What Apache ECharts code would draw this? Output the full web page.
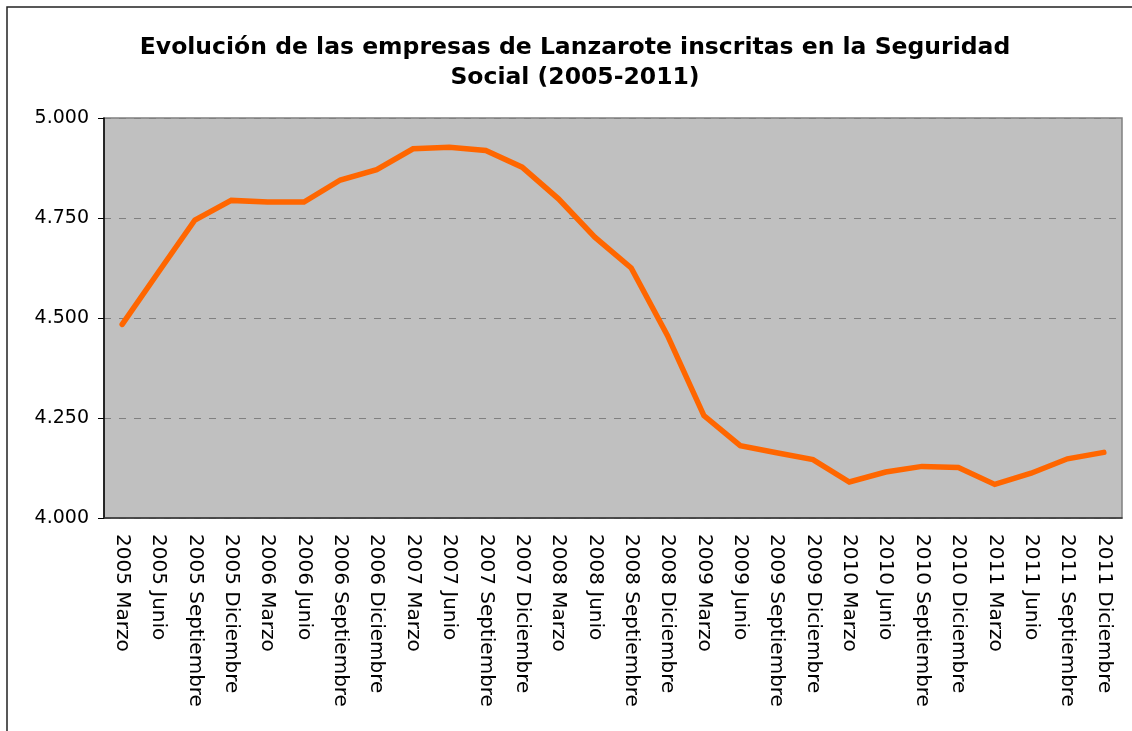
<!DOCTYPE html>
<html>
<head>
<meta charset="utf-8">
<title>Empresas Lanzarote</title>
<script src="https://cdn.jsdelivr.net/npm/echarts@6/dist/echarts.min.js"></script>
<style>
html, body { margin: 0; padding: 0; background: #fff; }
#chart { width: 1132px; height: 731px; }
</style>
</head>
<body>
<div id="chart"></div>
<script>
// trimestres 2005-2011
var categories = [
  '2005 Marzo', '2005 Junio', '2005 Septiembre', '2005 Diciembre',
  '2006 Marzo', '2006 Junio', '2006 Septiembre', '2006 Diciembre',
  '2007 Marzo', '2007 Junio', '2007 Septiembre', '2007 Diciembre',
  '2008 Marzo', '2008 Junio', '2008 Septiembre', '2008 Diciembre',
  '2009 Marzo', '2009 Junio', '2009 Septiembre', '2009 Diciembre',
  '2010 Marzo', '2010 Junio', '2010 Septiembre', '2010 Diciembre',
  '2011 Marzo', '2011 Junio', '2011 Septiembre', '2011 Diciembre'
];
// empresas inscritas
var empresas = [
  4484, 4615, 4745, 4794,
  4790, 4790, 4845, 4871,
  4923, 4927, 4919, 4877,
  4798, 4702, 4625, 4456,
  4256, 4181, 4163, 4146,
  4090, 4115, 4129, 4126,
  4084, 4112, 4148, 4164
];
var yTicks = [4000, 4250, 4500, 4750, 5000];

var chart = echarts.init(document.getElementById('chart'));
var option = {
  backgroundColor: '#fff',
  animation: false,
  title: {
    text: 'Evolución de las empresas de Lanzarote inscritas en la Seguridad\nSocial (2005-2011)',
    left: 570,
    top: 28,
    textAlign: 'center',
    textStyle: {
      fontFamily: 'DejaVu Sans',
      fontWeight: 'bold',
      fontSize: 23.5,
      lineHeight: 30,
      color: '#000'
    }
  },
  graphic: [{
    type: 'rect',
    shape: { x: 7, y: 7, width: 1140, height: 740 },
    style: { fill: 'none', stroke: '#222', lineWidth: 1.5 },
    silent: true
  }],
  grid: {
    left: 104,
    top: 118,
    right: 10,
    bottom: 213,
    show: true,
    backgroundColor: '#C0C0C0',
    borderColor: '#808080',
    borderWidth: 1.5
  },
  xAxis: {
    type: 'category',
    data: categories,
    boundaryGap: true,
    axisLine: { lineStyle: { color: '#333', width: 1.5 } },
    axisTick: { show: false },
    axisLabel: {
      interval: 0,
      rotate: -90,
      margin: 16,
      color: '#000',
      fontFamily: 'DejaVu Sans',
      fontSize: 20
    },
    splitLine: { show: false }
  },
  yAxis: {
    type: 'value',
    min: yTicks[0],
    max: yTicks[yTicks.length - 1],
    interval: yTicks[1] - yTicks[0],
    axisLine: { show: true, lineStyle: { color: '#000', width: 1.5 } },
    axisTick: { show: true, inside: false, length: 6, lineStyle: { color: '#000' } },
    axisLabel: {
      margin: 15,
      color: '#000',
      fontFamily: 'DejaVu Sans',
      fontSize: 19,
      formatter: function (v) {
        return String(v).replace(/\B(?=(\d{3})+(?!\d))/g, '.');
      }
    },
    splitLine: {
      show: true,
      lineStyle: { color: '#808080', type: [7, 8], width: 1 }
    }
  },
  series: [{
    name: 'Empresas',
    type: 'line',
    data: empresas,
    showSymbol: false,
    lineStyle: { color: '#FF6600', width: 5.5, cap: 'round', join: 'miter' },
    itemStyle: { color: '#FF6600' }
  }]
};
chart.setOption(option);
</script>
</body>
</html>
